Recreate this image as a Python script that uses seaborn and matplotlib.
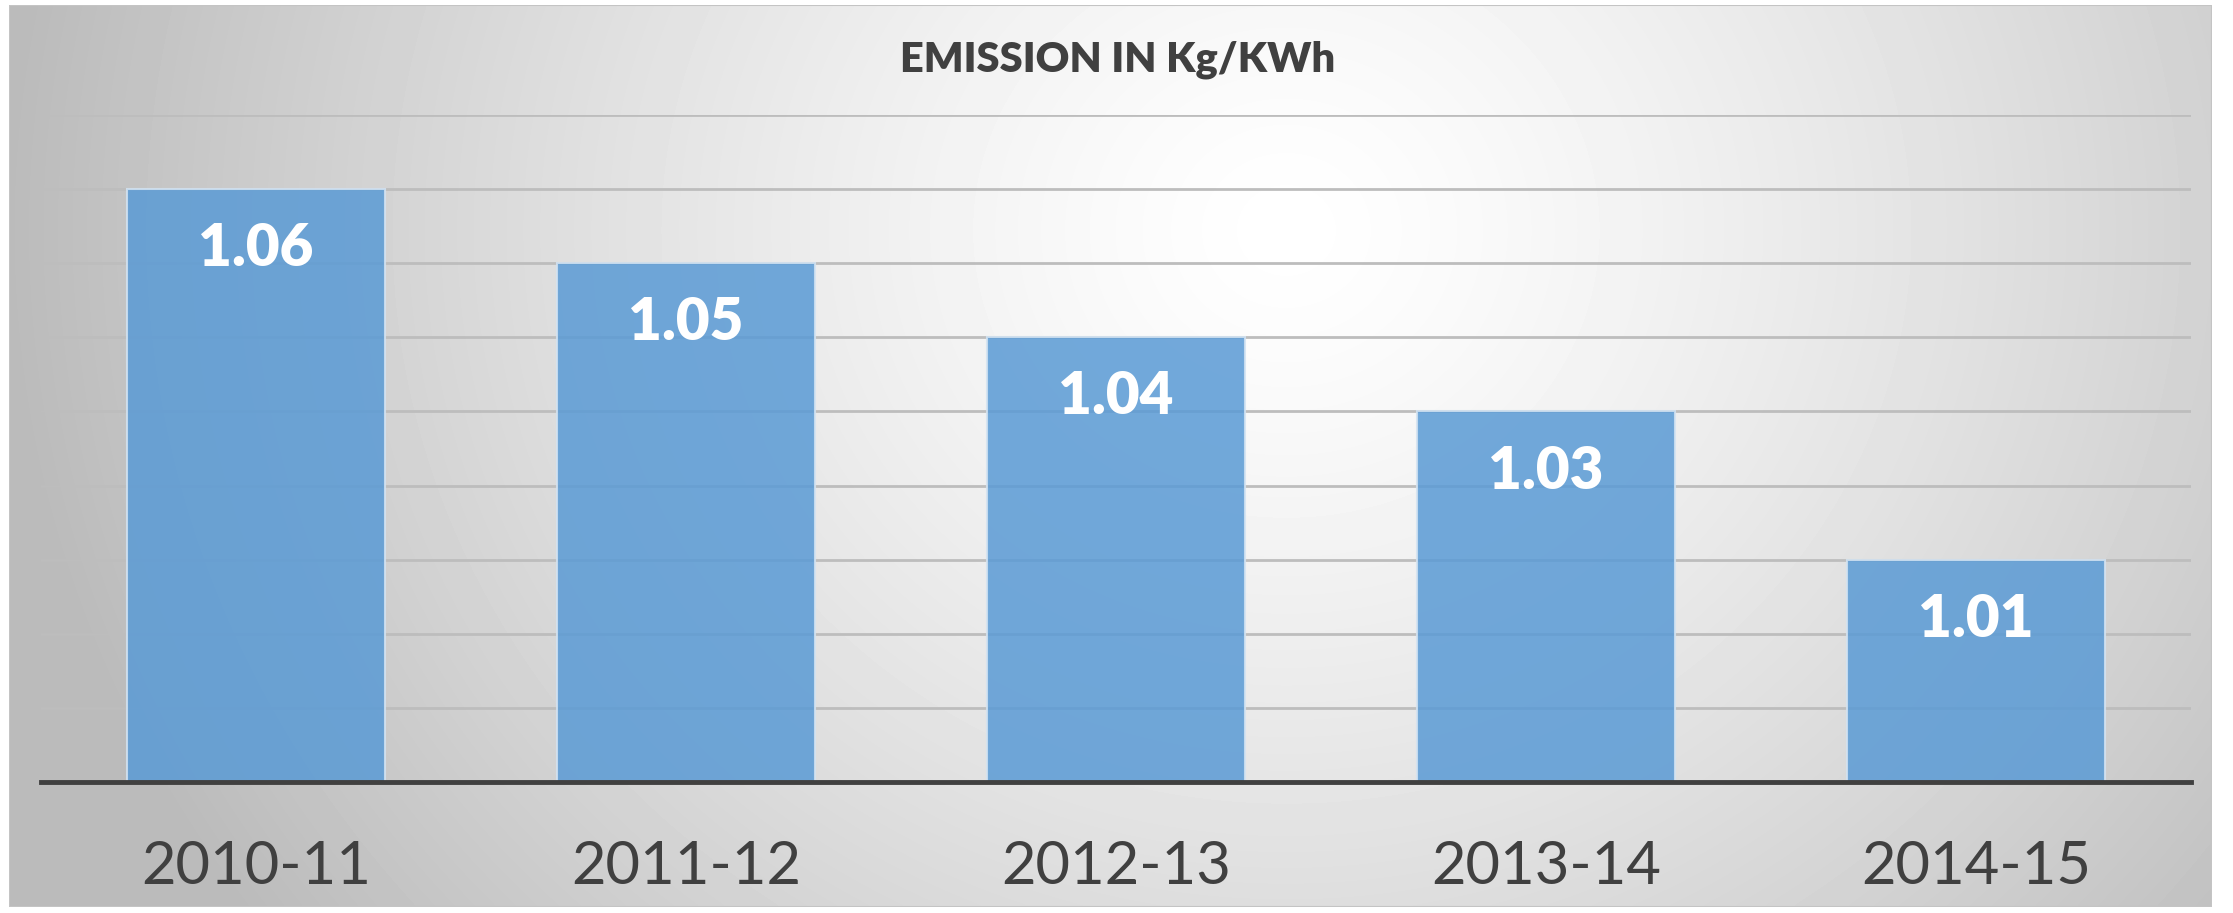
import numpy as np
import pandas as pd
import matplotlib
matplotlib.use("Agg")
import matplotlib.pyplot as plt
import seaborn as sns

# chart data
years = ["2010-11", "2011-12", "2012-13", "2013-14", "2014-15"]
emission = [1.06, 1.05, 1.04, 1.03, 1.01]
title = "EMISSION IN Kg/KWh"

W, H = 2233, 913
sns.set_style("white")
plt.rcParams["font.family"] = ["Lato", "DejaVu Sans"]

fig = plt.figure(figsize=(W / 100, H / 100), dpi=100)
fig.patch.set_facecolor("white")

# gray radial gradient background of the chart frame
fx0, fx1, fy0, fy1 = 9, 2212, 5, 907
bg = fig.add_axes([fx0 / W, 1 - fy1 / H, (fx1 - fx0) / W, (fy1 - fy0) / H])
gx, gy = np.meshgrid(np.linspace(0, 1, 600), np.linspace(0, 1, 300))
r = np.sqrt(((gx - 0.58) / 0.58) ** 2 + ((gy - 0.25) / 1.3) ** 2)
shade = 255 - 68 * np.clip(r, 0, 1) ** 1.3
bg.imshow(shade, cmap="gray", vmin=0, vmax=255, aspect="auto",
          extent=[0, 1, 1, 0], interpolation="bicubic")
bg.set_xlim(0, 1)
bg.set_ylim(1, 0)
bg.axis("off")
bg.add_patch(plt.Rectangle((0, 0), 1, 1, fill=False, edgecolor="#C4C4C4",
                           lw=1.5, transform=bg.transAxes))

# plot area
px0, px1, py0, py1 = 41, 2191, 115, 782
ax = fig.add_axes([px0 / W, 1 - py1 / H, (px1 - px0) / W, (py1 - py0) / H])
ax.set_facecolor("none")

df = pd.DataFrame({"year": years, "emission": emission})
sns.barplot(data=df, x="year", y="emission", color="#5B9BD5", saturation=1,
            width=0.6, ax=ax, zorder=3, edgecolor="#D3E3F2", linewidth=1.5)
for p in ax.patches:
    p.set_alpha(0.86)

ax.set_ylim(0.98, 1.07)
ax.set_yticks(np.arange(0.99, 1.0701, 0.01))
ax.yaxis.grid(True, color="#BDBDBD", lw=2, zorder=0)
ax.set_axisbelow(True)
ax.tick_params(axis="y", left=False, labelleft=False)
ax.tick_params(axis="x", bottom=False, pad=38, labelsize=43, labelcolor="#404040")
ax.set_xlabel("")
ax.set_ylabel("")
for s in ["top", "right", "left"]:
    ax.spines[s].set_visible(False)
ax.spines["bottom"].set_color("#404040")
ax.spines["bottom"].set_linewidth(3.5)
ax.spines["bottom"].set_zorder(5)

ax.bar_label(ax.containers[0], labels=[f"{v:.2f}" for v in emission],
             padding=-62, color="white", fontsize=42, fontweight="heavy")

fig.text(0.5007, 1 - 60 / H, title, ha="center", va="center",
         fontsize=30, fontweight="heavy", color="#404040")

fig.savefig("out.png", dpi=100)
